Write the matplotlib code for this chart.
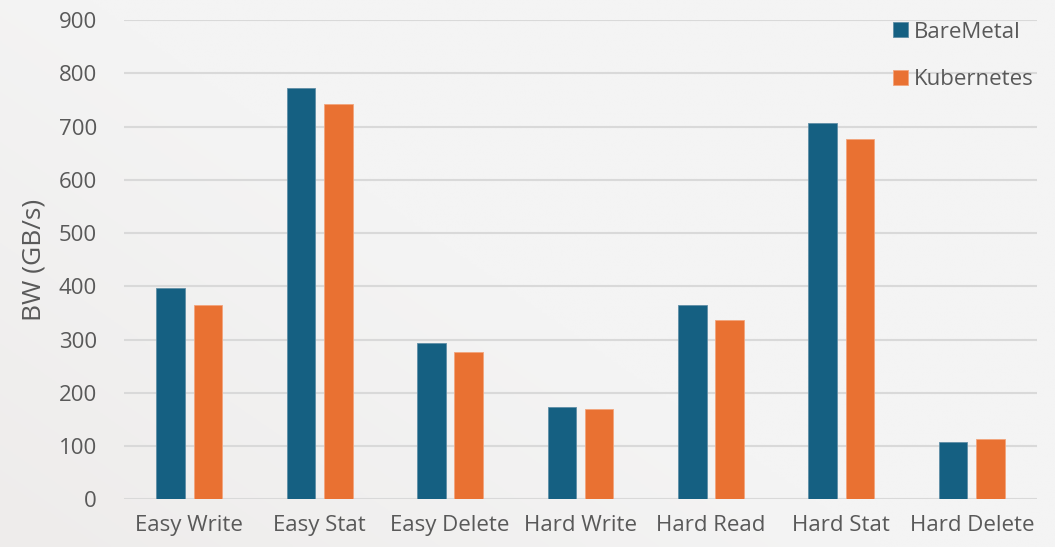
import matplotlib
matplotlib.use('Agg')
import matplotlib.pyplot as plt
import numpy as np

categories = ['Easy Write', 'Easy Stat', 'Easy Delete', 'Hard Write', 'Hard Read', 'Hard Stat', 'Hard Delete']
baremetal = [396, 773, 293, 174, 364, 706, 107]
kubernetes = [365, 742, 276, 170, 336, 677, 114]

BLUE = '#156082'
ORANGE = '#E97132'
TXT = '#595959'

plt.rcParams['font.family'] = ['Open Sans', 'DejaVu Sans']

fig = plt.figure(figsize=(10.55, 5.47), dpi=100)

# faint background shading, a bit darker toward the lower left
bg = fig.add_axes([0, 0, 1, 1], zorder=-10)
yy, xx = np.mgrid[0:1:200j, 0:1:400j]
shade = np.clip(1.0 - (xx * 1.2 + yy * 0.9), 0, 1)
img = np.zeros((200, 400, 3))
top = np.array([0xF4, 0xF4, 0xF4]) / 255
low = np.array([0xEE, 0xEC, 0xEB]) / 255
img[:] = top + (low - top) * shade[..., None]
bg.imshow(img, extent=(0, 1, 0, 1), aspect='auto', origin='lower')
bg.axis('off')

W, H = 1055, 547
ax = fig.add_axes([124 / W, 1 - 499.3 / H, (1037 - 124) / W, (499.3 - 20) / H])
ax.patch.set_alpha(0)

x = np.arange(len(categories))
bw = 0.22
off = 0.143
ax.bar(x - off, baremetal, bw, color=BLUE, edgecolor='#5f8ea6', linewidth=0.6, label='BareMetal', zorder=3)
ax.bar(x + off, kubernetes, bw, color=ORANGE, edgecolor='#f2a47c', linewidth=0.6, label='Kubernetes', zorder=3)

ax.set_xlim(-0.5, len(categories) - 0.5)
ax.set_ylim(0, 900)
ax.set_yticks(range(0, 901, 100))
ax.yaxis.grid(True, color='#D9D9D9', linewidth=1.5, zorder=0)
ax.set_axisbelow(True)
for s in ax.spines.values():
    s.set_visible(False)
ax.tick_params(axis='both', length=0, labelsize=16, colors=TXT)
ax.tick_params(axis='y', pad=19.5)
ax.tick_params(axis='x', pad=11)
ax.set_xticks(x)
ax.set_xticklabels(categories)
ax.set_ylabel('BW (GB/s)', fontsize=19, color=TXT, labelpad=8.5)

fig.legend(loc='upper left', bbox_to_anchor=(893 / W, 1 - 21.5 / H), frameon=False,
           borderpad=0, borderaxespad=0, fontsize=16, handlelength=0.68, handleheight=0.68,
           handletextpad=0.27, labelspacing=1.2, labelcolor=TXT)

fig.savefig('out.png', dpi=100)
